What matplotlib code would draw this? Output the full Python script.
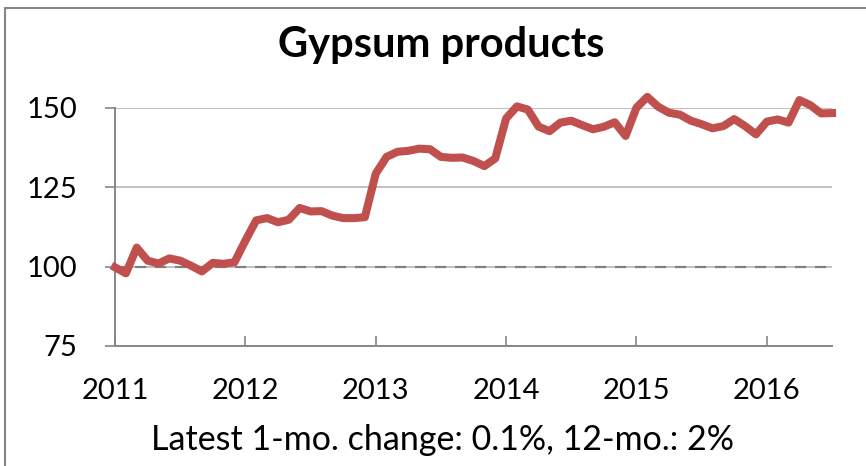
import numpy as np
import matplotlib
matplotlib.use("Agg")
import matplotlib.pyplot as plt
from matplotlib.patches import Rectangle

# --- data (monthly index, Jan 2011 .. Jul 2016) ---
title = "Gypsum products"
note = "Latest 1-mo. change: 0.1%, 12-mo.: 2%"
years = [2011, 2012, 2013, 2014, 2015, 2016]
values = [
    99.8, 97.9, 106.0, 101.9, 101.0, 102.6, 101.9, 100.3, 98.5, 101.2, 100.9, 101.4,   # 2011
    108.2, 114.6, 115.3, 114.0, 114.8, 118.5, 117.4, 117.5, 116.1, 115.3, 115.3, 115.6,  # 2012
    129.3, 134.6, 136.2, 136.5, 137.2, 137.0, 134.6, 134.3, 134.4, 133.3, 131.7, 134.1,  # 2013
    146.7, 150.5, 149.5, 144.1, 142.7, 145.4, 146.0, 144.6, 143.3, 144.1, 145.5, 141.2,  # 2014
    150.1, 153.5, 150.4, 148.5, 147.9, 146.0, 144.9, 143.6, 144.3, 146.5, 144.3, 141.7,  # 2015
    145.7, 146.4, 145.4, 152.5, 150.9, 148.3, 148.4,  # 2016
]
yticks = [75, 100, 125, 150]

# ------------ plot ------------
plt.rcParams['font.family'] = ['Lato', 'DejaVu Sans']
W, H = 866, 466
fig = plt.figure(figsize=(W / 100, H / 100), dpi=100)
ax = fig.add_axes([115 / W, 1 - 346 / H, (832 - 115) / W, (346 - 108) / H])

x = np.arange(len(values))
ax.plot(x, values, color="#c0504d", linewidth=5.8, solid_joinstyle="round",
        clip_on=False, zorder=3)

ax.set_xlim(0, 66)
ax.set_ylim(75, 150)
ax.set_yticks(yticks)
ax.set_xticks([12 * i for i in range(len(years))])
ax.set_xticklabels([str(y) for y in years])

# gridlines + dashed reference at 100
for v in yticks[1:]:
    ax.axhline(v, color="#c0c0c0", linewidth=1.4, zorder=1)
ax.axhline(100, color="#808080", linewidth=1.6, linestyle=(0, (5, 4)), zorder=2)

for s in ["top", "right"]:
    ax.spines[s].set_visible(False)
for s in ["left", "bottom"]:
    ax.spines[s].set_color("#868686")
    ax.spines[s].set_linewidth(1.4)

ax.tick_params(axis="y", direction="out", length=7, width=1.2, color="#868686",
               labelsize=21, pad=20)
ax.tick_params(axis="x", direction="in", length=7, width=1.2, color="#868686",
               labelsize=21, pad=23)

fig.text(441 / W, 1 - 45 / H, title, ha="center", va="center",
         fontsize=30, fontweight="bold")
fig.text(443 / W, 1 - 440 / H, note, ha="center", va="center", fontsize=24.5)

# outer chart frame (only left and top edges visible)
fig.patches.append(Rectangle((5 / W, -0.1), 1.2, 1 - 8 / H + 0.1,
                             transform=fig.transFigure, fill=False,
                             edgecolor="#868686", linewidth=1.5))

fig.savefig("out.png", dpi=100)
